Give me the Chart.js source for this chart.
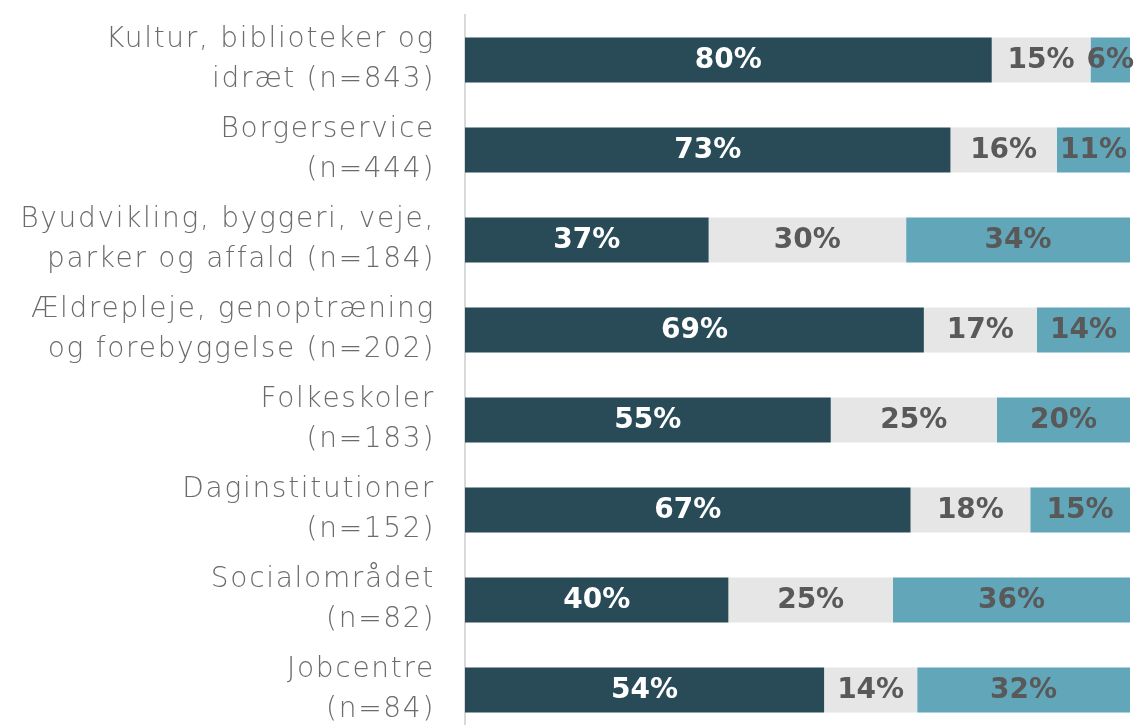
<!DOCTYPE html>
<html lang="da">

<head>
    <meta charset="UTF-8">
    <title>Tilfredshed fordelt på område</title>
    <script src="https://cdn.jsdelivr.net/npm/chart.js"></script>
    <style>
        html, body { margin: 0; padding: 0; background: #fff; overflow: hidden; }
        .ramme { position: relative; width: 1137px; height: 745px; }
    </style>
</head>

<body>
    <div class="ramme">
        <canvas id="graf"></canvas>
    </div>
    <script>
        const omraader = [
            ['Kultur, biblioteker og', 'idræt (n=843)'],
            ['Borgerservice', '(n=444)'],
            ['Byudvikling, byggeri, veje,', 'parker og affald (n=184)'],
            ['Ældrepleje, genoptræning', 'og forebyggelse (n=202)'],
            ['Folkeskoler', '(n=183)'],
            ['Daginstitutioner', '(n=152)'],
            ['Socialområdet', '(n=82)'],
            ['Jobcentre', '(n=84)']
        ];
        const andelMoerk = [80, 73, 37, 69, 55, 67, 40, 54];
        const andelGraa = [15, 16, 30, 17, 25, 18, 25, 14];
        const andelBlaa = [6, 11, 34, 14, 20, 15, 36, 32];

        // hver række fylder hele bredden (afrundede tal summer ikke altid til 100)
        const rækkeSum = andelMoerk.map((v, i) => v + andelGraa[i] + andelBlaa[i]);
        const andel = arr => arr.map((v, i) => v / rækkeSum[i] * 100);

        // lidt luft mellem bogstaverne, så akseteksten får samme bredde som originalen
        const spacingPlugin = {
            id: 'spacing',
            beforeDraw(chart) { chart.ctx.letterSpacing = '1.7px'; },
            afterDatasetsDraw(chart) { chart.ctx.letterSpacing = '0px'; }
        };

        const labelPlugin = {
            id: 'labels',
            afterDatasetsDraw(chart) {
                const ctx = chart.ctx;
                ctx.save();
                ctx.letterSpacing = '0px';
                ctx.font = 'bold 28px "DejaVu Sans"';
                ctx.textAlign = 'center';
                ctx.textBaseline = 'middle';
                chart.data.datasets.forEach((ds, di) => {
                    chart.getDatasetMeta(di).data.forEach((bar, i) => {
                        const x = (bar.x + bar.base) / 2;
                        ctx.fillStyle = ds.labelFarve;
                        ctx.fillText(ds.tal[i] + '%', x, bar.y + 1);
                    });
                });
                ctx.restore();
            }
        };

        new Chart(document.getElementById('graf'), {
            type: 'bar',
            data: {
                labels: omraader,
                datasets: [
                    { data: andel(andelMoerk), tal: andelMoerk, backgroundColor: '#284b57', labelFarve: '#ffffff' },
                    { data: andel(andelGraa), tal: andelGraa, backgroundColor: '#e6e6e6', labelFarve: '#595959' },
                    { data: andel(andelBlaa), tal: andelBlaa, backgroundColor: '#62a6ba', labelFarve: '#595959' }
                ]
            },
            options: {
                indexAxis: 'y',
                responsive: true,
                maintainAspectRatio: false,
                animation: false,
                datasets: { bar: { categoryPercentage: 1, barPercentage: 0.5 } },
                layout: { padding: { top: 15, right: 7, bottom: 10 } },
                plugins: { legend: { display: false }, tooltip: { enabled: false } },
                scales: {
                    x: {
                        stacked: true,
                        min: 0,
                        max: 100,
                        display: false
                    },
                    y: {
                        stacked: true,
                        grid: { display: false },
                        border: { display: true, color: '#d9d9d9', width: 2 },
                        afterFit(scale) {
                            scale.width = 465;
                            scale.paddingTop = 0;
                            scale.paddingBottom = 0;
                        },
                        ticks: {
                            color: '#6b6b6b',
                            padding: 22,
                            font: { family: '"DejaVu Sans"', size: 28, weight: 200, lineHeight: 1.43 }
                        }
                    }
                }
            },
            plugins: [spacingPlugin, labelPlugin]
        });
    </script>
</body>

</html>
